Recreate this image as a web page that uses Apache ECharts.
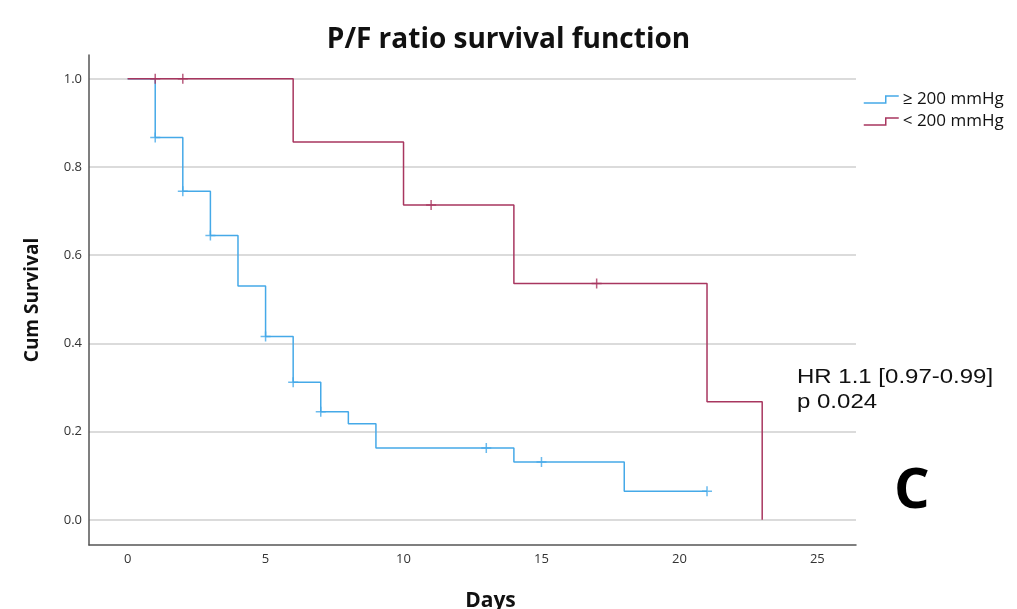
<!DOCTYPE html>
<html>
<head>
<meta charset="utf-8">
<script src="https://cdn.jsdelivr.net/npm/echarts@6/dist/echarts.min.js"></script>
<style>html,body{margin:0;padding:0;background:#fff}#c{width:1017px;height:609px}</style>
</head>
<body>
<div id="c"></div>
<script>
// Kaplan-Meier step data (time in days, cumulative survival)
const highTimes = [0, 1, 2, 3, 4, 5, 6, 7, 8, 9, 14, 18, 21];
const highSurv  = [1.0, 0.867, 0.745, 0.645, 0.53, 0.416, 0.312, 0.245, 0.218, 0.163, 0.131, 0.065, 0.065];
const highCensorTimes = [1, 2, 3, 5, 6, 7, 13, 15, 21];
const highCensorSurv  = [0.867, 0.745, 0.645, 0.416, 0.312, 0.245, 0.163, 0.131, 0.065];

const lowTimes = [0, 6, 10, 14, 21, 23];
const lowSurv  = [1.0, 0.857, 0.714, 0.536, 0.268, 0.0];
const lowCensorTimes = [1, 2, 11, 17];
const lowCensorSurv  = [1.0, 1.0, 0.714, 0.536];

const seriesNames = ['≥ 200 mmHg', '< 200 mmHg'];
const xTicks = [0, 5, 10, 15, 20, 25];
const yTicks = [0.0, 0.2, 0.4, 0.6, 0.8, 1.0];

const BLUE = '#45a9e8';
const RED = '#a8365f';
const zip = (a, b) => a.map((v, i) => [v, b[i]]);
const plus = 'path://M8.5,0 H11.5 V8.5 H20 V11.5 H11.5 V20 H8.5 V11.5 H0 V8.5 H8.5 Z';
const stepIcon = 'path://M0,7 L22,7 L22,0 L35,0';

const chart = echarts.init(document.getElementById('c'), null, {renderer: 'canvas'});
chart.setOption({
  animation: false,
  backgroundColor: '#fff',
  title: {
    text: 'P/F ratio survival function',
    left: 'center',
    top: 21,
    textStyle: {fontFamily: 'Open Sans', fontWeight: 'bold', fontSize: 28, color: '#111'}
  },
  legend: {
    data: [
      {name: seriesNames[0], itemStyle: {color: 'transparent', borderColor: BLUE, borderWidth: 1.5}},
      {name: seriesNames[1], itemStyle: {color: 'transparent', borderColor: RED, borderWidth: 1.5}}
    ],
    orient: 'vertical',
    left: 858,
    top: 86,
    itemWidth: 35,
    itemHeight: 7,
    itemGap: 5,
    icon: stepIcon,
    textStyle: {fontFamily: 'Open Sans', fontSize: 17, color: '#111', padding: [0, 0, 0, -1]}
  },
  grid: {left: 89, right: 161, top: 55, bottom: 64, outerBoundsMode: 'none', containLabel: false},
  xAxis: {
    type: 'value',
    min: -1.4,
    max: 26.4,
    name: 'Days',
    nameLocation: 'middle',
    nameGap: 46,
    nameTextStyle: {fontFamily: 'Open Sans', fontWeight: 'bold', fontSize: 21, color: '#111', padding: [0, 0, 0, 36]},
    axisLine: {show: true, onZero: false, lineStyle: {color: '#555', width: 1.5}},
    axisTick: {show: false, customValues: xTicks},
    axisLabel: {customValues: xTicks, fontFamily: 'Open Sans', fontSize: 13, color: '#333', margin: 8},
    splitLine: {show: false}
  },
  yAxis: {
    type: 'value',
    min: -0.057,
    max: 1.054,
    name: 'Cum Survival',
    nameLocation: 'middle',
    nameGap: 47,
    nameTextStyle: {fontFamily: 'Open Sans', fontWeight: 'bold', fontSize: 19, color: '#111'},
    axisLine: {show: true, onZero: false, lineStyle: {color: '#555', width: 1.5}},
    axisTick: {show: false, customValues: yTicks},
    axisLabel: {customValues: yTicks, formatter: v => v.toFixed(1), fontFamily: 'Open Sans', fontSize: 13, color: '#333', margin: 7},
    splitLine: {show: true, lineStyle: {color: '#cfcfcf', width: 1.5}}
  },
  series: [
    {
      name: seriesNames[0], type: 'line', step: 'end', showSymbol: false, symbol: 'none',
      data: zip(highTimes, highSurv), color: BLUE,
      lineStyle: {color: BLUE, width: 1.5}, z: 2
    },
    {
      name: seriesNames[1], type: 'line', step: 'end', showSymbol: false, symbol: 'none',
      data: zip(lowTimes, lowSurv), color: RED,
      lineStyle: {color: RED, width: 1.5}, z: 3
    },
    {
      name: 'censor-high', type: 'scatter', symbol: plus, symbolSize: 10,
      data: zip(highCensorTimes, highCensorSurv), itemStyle: {color: BLUE}, z: 4
    },
    {
      name: 'censor-low', type: 'scatter', symbol: plus, symbolSize: 10,
      data: zip(lowCensorTimes, lowCensorSurv), itemStyle: {color: RED}, z: 5
    }
  ],
  graphic: [
    {type: 'text', x: 797, y: 365, scaleX: 1.2, style: {text: 'HR 1.1 [0.97-0.99]\np 0.024', font: '20px "Liberation Sans", Arial, sans-serif', fill: '#111', lineHeight: 25, verticalAlign: 'top'}},
    {type: 'text', x: 894, y: 492, style: {text: 'C', font: 'bold 56px "Open Sans", sans-serif', fill: '#000', verticalAlign: 'middle'}}
  ]
});
</script>
</body>
</html>
